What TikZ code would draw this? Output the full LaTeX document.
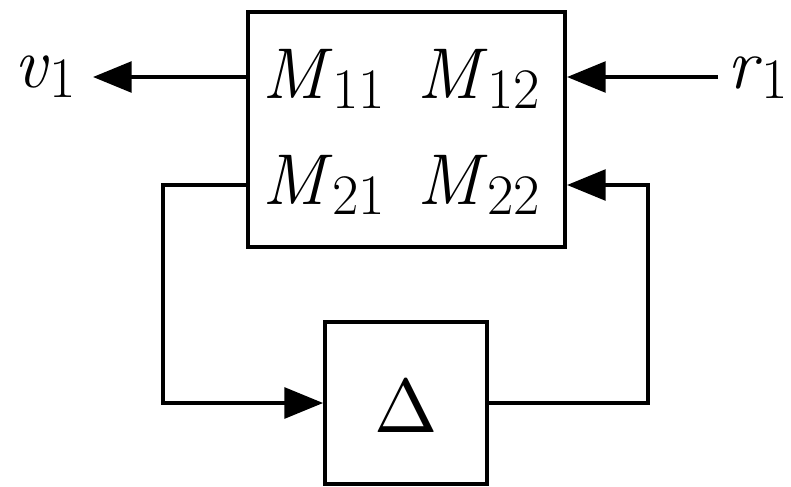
\documentclass[tikz,border=0pt]{standalone}
\usepackage{graphicx}
\usetikzlibrary{arrows.meta}
\newcommand{\bigtxt}{\fontsize{54}{56}\selectfont}
\newcommand{\Msub}[2]{\textit{#1}\raisebox{-7.5pt}{\fontsize{43}{45}\selectfont #2}}
\begin{document}
\begin{tikzpicture}[x=0.75pt,y=-0.75pt,
  wire/.style={line width=2.8pt},
  arr/.style={wire,-{Triangle[length=29pt,width=23pt]}},
  blk/.style={draw,line width=2.8pt,inner sep=0pt},
  lbl/.style={inner sep=0pt,font=\bigtxt}]
\useasboundingbox (0,0) rectangle (791,486);
\node[blk,minimum width=238pt,minimum height=176pt] (M) at (406.5,129.5) {};
\node[blk,minimum width=121.5pt,minimum height=121.5pt] (D) at (406,403) {};
\node[inner sep=0pt,anchor=base] (delta) at (406,432) {\fontsize{10}{12}\selectfont\scalebox{5.7}{$\Delta$}};
\node[lbl,anchor=base west] (m11) at (262,98) {\Msub{M}{11}};
\node[lbl,anchor=base west] (m12) at (417,98) {\Msub{M}{12}};
\node[lbl,anchor=base west] (m21) at (262,204) {\Msub{M}{21}};
\node[lbl,anchor=base west] (m22) at (417,204) {\Msub{M}{22}};
\node[lbl,anchor=base west] (v1) at (14,87) {\Msub{v}{1}};
\node[lbl,anchor=base west] (r1) at (727,88) {\Msub{r}{1}};
\coordinate (vend) at (93,77);
\coordinate (rstart) at (718,77);
\coordinate (lowy) at (0,185);
\coordinate (lcol) at (163,0);
\coordinate (rcol) at (648,0);
\draw[arr] (M.west |- vend) -- (vend);
\draw[arr] (rstart) -- (M.east |- rstart);
\draw[arr] (M.west |- lowy) -- (lcol |- lowy) -- (lcol |- D.west) -- (D.west);
\draw[arr] (D.east) -- (rcol |- D.east) -- (rcol |- lowy) -- (M.east |- lowy);
\end{tikzpicture}
\end{document}
